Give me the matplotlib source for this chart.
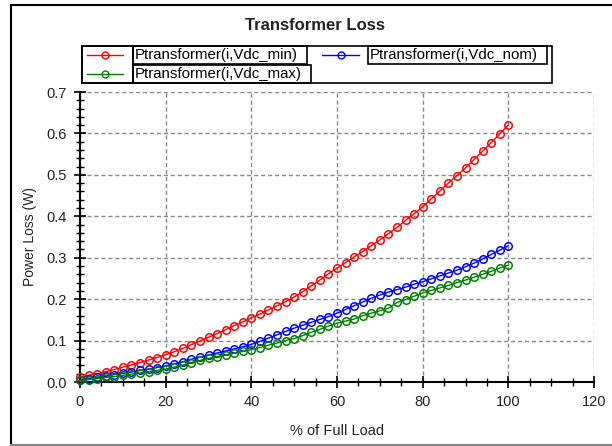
import matplotlib
matplotlib.use("Agg")
import matplotlib.pyplot as plt
import numpy as np
from matplotlib.lines import Line2D
from matplotlib.patches import Rectangle
from matplotlib.ticker import MultipleLocator

plt.rcParams["font.family"] = ["Liberation Sans", "DejaVu Sans"]

load_pct = list(range(0, 101, 2))

p_vdc_min = [0.012, 0.016, 0.020, 0.025, 0.030, 0.036, 0.041, 0.047, 0.053, 0.059,
             0.066, 0.073, 0.081, 0.090, 0.099, 0.108, 0.117, 0.126, 0.136, 0.145,
             0.155, 0.164, 0.174, 0.184, 0.194, 0.205, 0.218, 0.232, 0.246, 0.261,
             0.275, 0.288, 0.302, 0.315, 0.329, 0.343, 0.358, 0.373, 0.390, 0.406,
             0.423, 0.442, 0.461, 0.480, 0.498, 0.517, 0.537, 0.557, 0.578, 0.599,
             0.620]
p_vdc_nom = [0.006, 0.008, 0.011, 0.014, 0.018, 0.021, 0.024, 0.028, 0.031, 0.035,
             0.039, 0.044, 0.049, 0.055, 0.060, 0.065, 0.070, 0.075, 0.080, 0.085,
             0.091, 0.098, 0.106, 0.114, 0.122, 0.130, 0.137, 0.144, 0.151, 0.158,
             0.166, 0.175, 0.184, 0.193, 0.202, 0.210, 0.217, 0.223, 0.229, 0.236,
             0.242, 0.249, 0.256, 0.263, 0.270, 0.278, 0.287, 0.297, 0.308, 0.318,
             0.329]
p_vdc_max = [0.004, 0.006, 0.008, 0.011, 0.013, 0.016, 0.019, 0.022, 0.025, 0.028,
             0.031, 0.036, 0.041, 0.047, 0.052, 0.057, 0.061, 0.065, 0.069, 0.074,
             0.078, 0.083, 0.089, 0.094, 0.100, 0.105, 0.112, 0.120, 0.127, 0.135,
             0.142, 0.147, 0.152, 0.160, 0.166, 0.172, 0.178, 0.192, 0.199, 0.207,
             0.215, 0.221, 0.227, 0.233, 0.240, 0.246, 0.253, 0.260, 0.267, 0.275,
             0.282]

series_labels = ["Ptransformer(i,Vdc_min)", "Ptransformer(i,Vdc_nom)", "Ptransformer(i,Vdc_max)"]
series_colors = ["#ff0000", "#0000ff", "#008000"]

W, H = 612, 446


def fx(x):
    return x / W


def fy(y):
    return 1 - y / H


fig = plt.figure(figsize=(W / 100, H / 100), dpi=100)
ax = fig.add_axes([fx(80), fy(382), fx(594) - fx(80), fy(92) - fy(382)])

for vals, col in zip([p_vdc_min, p_vdc_nom, p_vdc_max], series_colors):
    ax.plot(load_pct, vals, color=col, lw=1.0, marker="o", ms=5.4,
            mfc="none", mec=col, mew=1.1, zorder=3, clip_on=False)

ax.set_xlim(0, 120)
ax.set_ylim(0, 0.7)
ax.xaxis.set_major_locator(MultipleLocator(20))
ax.xaxis.set_minor_locator(MultipleLocator(5))
ax.yaxis.set_major_locator(MultipleLocator(0.1))
ax.yaxis.set_minor_locator(MultipleLocator(0.02))
ax.yaxis.set_major_formatter(matplotlib.ticker.FormatStrFormatter("%.1f"))
ax.grid(True, which="major", ls=(0, (3, 2)), color="#888888", lw=1.0)
ax.set_axisbelow(True)
for s in ["top", "right"]:
    ax.spines[s].set_visible(False)
for s in ["left", "bottom"]:
    ax.spines[s].set_linewidth(1.5)
ax.tick_params(which="major", direction="inout", length=9, width=1.2, labelsize=10.5,
               labelcolor="#222222", pad=5)
ax.tick_params(which="minor", direction="inout", length=6, width=1.0)
ax.set_xlabel("% of Full Load", fontsize=10.5, labelpad=11, color="#222222")
ax.set_ylabel("Power Loss (W)", fontsize=10, labelpad=7, color="#222222")

fig.text(fx(315), fy(25), "Transformer Loss", ha="center", va="center",
         fontsize=12, fontweight="bold", color="#222222")

# outer frame
fig.add_artist(Line2D([fx(11), fx(11)], [fy(5), fy(445)], color="black", lw=1.5))
fig.add_artist(Line2D([fx(11), 1.0], [fy(5), fy(5)], color="black", lw=1.5))
fig.add_artist(Line2D([fx(11), 1.0], [fy(445), fy(445)], color="#888888", lw=1.5))

# legend built from cells
def box(x0, y0, x1, y1):
    fig.add_artist(Rectangle((fx(x0), fy(y1)), fx(x1) - fx(x0), fy(y0) - fy(y1),
                             fill=False, ec="black", lw=1.2, transform=fig.transFigure))


box(82, 46, 552, 83)
box(82, 46, 133, 83)
cells = [(87, 123, 133, 307, 55), (322, 359, 368, 547, 55), (87, 123, 133, 311, 74)]
for (lx0, lx1, tx0, tx1, yc), lab, col in zip(cells, series_labels, series_colors):
    fig.add_artist(Line2D([fx(lx0), fx(lx1)], [fy(yc), fy(yc)], color=col, lw=1.0))
    fig.add_artist(Line2D([fx((lx0 + lx1) / 2)], [fy(yc)], color=col, marker="o",
                          ms=5, mfc="none", mec=col, mew=1.0))
    box(tx0, yc - 9, tx1, yc + 9)
    fig.text(fx(tx0 + 2), fy(yc), lab, ha="left", va="center", fontsize=10.8)

fig.savefig("out.png", dpi=100)
